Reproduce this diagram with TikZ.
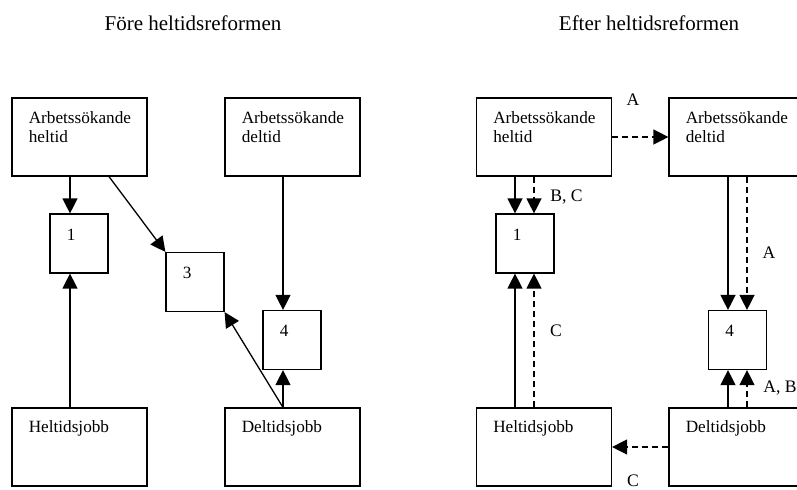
\documentclass[tikz,border=0pt]{standalone}
\usepackage{fontspec}
\setmainfont{Liberation Serif}
\usetikzlibrary{arrows.meta}
\tikzset{
	box/.style={draw, line width=0.6pt, minimum width=67.5pt, minimum height=39pt, inner sep=0pt},
	numbox/.style={draw, line width=0.6pt, minimum width=29pt, minimum height=29.5pt, inner sep=0pt},
	txt/.style={anchor=base west, inner sep=0pt, align=left, font=\fontsize{8.6}{9.5}\selectfont},
	lbl/.style={inner sep=0pt, font=\fontsize{8.8}{10}\selectfont},
	title/.style={inner sep=0pt, font=\fontsize{10.5}{12}\selectfont},
	arr/.style={line width=0.65pt, -{Triangle[length=7.5pt, width=7.5pt]}},
	dsh/.style={dash pattern=on 3pt off 2pt}
}

\begin{document}
\begin{tikzpicture}[x=0.5pt, y=-0.5pt]
		%%%%% START %%%%%
		\useasboundingbox (0,0) rectangle (797,489);
		
		% columns of the vertical arrows
		\coordinate (cL1) at (70,0);
		\coordinate (cL3) at (109,0);
		\coordinate (cL4) at (283,0);
		\coordinate (cR1) at (515,0);
		\coordinate (cR1d) at (534,0);
		\coordinate (cR4) at (728,0);
		\coordinate (cR4d) at (747,0);
		
		%%%%% BEFORE %%%%%
		\node[title] (tL) at (193,23) {Före heltidsreformen};
		
		\node[box] (ahL) at (79.5,137) {};
		\node[box] (adL) at (292.5,137) {};
		\node[numbox] (oneL) at (79,243.5) {};
		\node[numbox] (threeL) at (195,282) {};
		\node[numbox] (fourL) at (292,340) {};
		\node[box] (hjL) at (79.5,447) {};
		\node[box] (djL) at (292.5,447) {};
		
		% two-line texts sit on their last line
		\node[txt] (ahLt) at ([shift={(17,45)}]ahL.north west) {Arbetssökande\\heltid};
		\node[txt] (adLt) at ([shift={(17,45)}]adL.north west) {Arbetssökande\\deltid};
		\node[txt] (oneLt) at ([shift={(17,27)}]oneL.north west) {1};
		\node[txt] (threeLt) at ([shift={(17,27)}]threeL.north west) {3};
		\node[txt] (fourLt) at ([shift={(17,27)}]fourL.north west) {4};
		\node[txt] (hjLt) at ([shift={(17,25)}]hjL.north west) {Heltidsjobb};
		\node[txt] (djLt) at ([shift={(17,25)}]djL.north west) {Deltidsjobb};
		
		\draw[arr] (ahL.south -| cL1) -- (oneL.north -| cL1);
		\draw[arr] (ahL.south -| cL3) -- (threeL.north west);
		\draw[arr] (adL.south -| cL4) -- (fourL.north -| cL4);
		\draw[arr] (hjL.north -| cL1) -- (oneL.south -| cL1);
		\draw[arr] (djL.north -| cL4) -- (fourL.south -| cL4);
		\draw[arr] (djL.north -| cL4) -- (threeL.south east);
		
		%%%%% AFTER %%%%%
		\node[title] (tR) at (649,23) {Efter heltidsreformen};
		
		\node[box] (ahR) at (544,137) {};
		\node[box] (adR) at (736.5,137) {};
		\node[numbox] (oneR) at (525,243.5) {};
		\node[numbox] (fourR) at (737.5,340) {};
		\node[box] (hjR) at (544,447) {};
		\node[box] (djR) at (736.5,447) {};
		
		\node[txt] (ahRt) at ([shift={(17,45)}]ahR.north west) {Arbetssökande\\heltid};
		\node[txt] (adRt) at ([shift={(17,45)}]adR.north west) {Arbetssökande\\deltid};
		\node[txt] (oneRt) at ([shift={(17,27)}]oneR.north west) {1};
		\node[txt] (fourRt) at ([shift={(17,27)}]fourR.north west) {4};
		\node[txt] (hjRt) at ([shift={(17,25)}]hjR.north west) {Heltidsjobb};
		\node[txt] (djRt) at ([shift={(17,25)}]djR.north west) {Deltidsjobb};
		
		\draw[arr] (ahR.south -| cR1) -- (oneR.north -| cR1);
		\draw[arr, dsh] (ahR.south -| cR1d) -- (oneR.north -| cR1d);
		\draw[arr] (hjR.north -| cR1) -- (oneR.south -| cR1);
		\draw[arr, dsh] (hjR.north -| cR1d) -- (oneR.south -| cR1d);
		\draw[arr] (adR.south -| cR4) -- (fourR.north -| cR4);
		\draw[arr, dsh] (adR.south -| cR4d) -- (fourR.north -| cR4d);
		\draw[arr] (djR.north -| cR4) -- (fourR.south -| cR4);
		\draw[arr, dsh] (djR.north -| cR4d) -- (fourR.south -| cR4d);
		\draw[arr, dsh] (ahR.east) -- (adR.west);
		\draw[arr, dsh] (djR.west) -- (hjR.east);
		
		\node[lbl] (lA1) at (633,100) {A};
		\node[lbl, anchor=west] (lBC) at (550,197) {B, C};
		\node[lbl] (lA2) at (769,253) {A};
		\node[lbl] (lC1) at (556,331) {C};
		\node[lbl, anchor=west] (lAB) at (763,388) {A, B};
		\node[lbl, anchor=south] (lC2) at (633,487.5) {C};
		%%%%% END %%%%%
\end{tikzpicture}
\end{document}
